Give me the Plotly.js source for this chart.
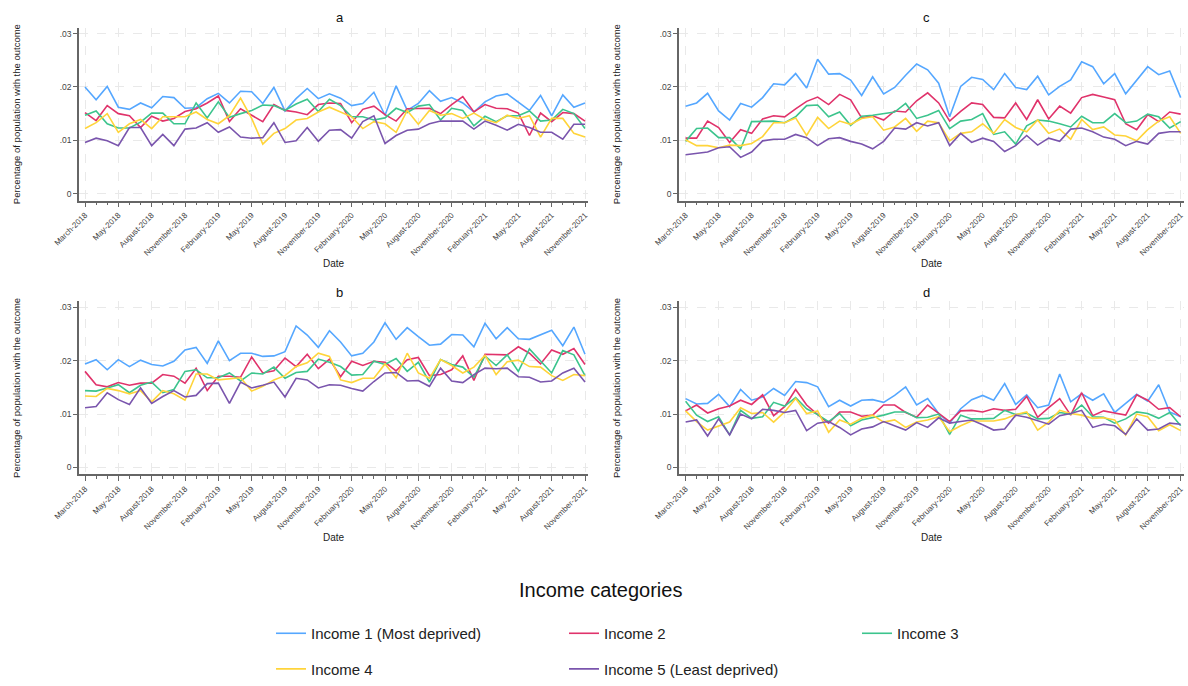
<!DOCTYPE html>
<html>
<head>
<meta charset="utf-8">
<script src="https://cdn.plot.ly/plotly-3.0.1.min.js"></script>
<style>html,body{margin:0;padding:0;background:#fff;}#chart{width:1188px;height:686px;}</style>
</head>
<body>
<div id="chart"></div>
<script>
// ---- Data ----
const tickLabels = ['March-2018','May-2018','August-2018','November-2018','February-2019','May-2019','August-2019','November-2019','February-2020','May-2020','August-2020','November-2020','February-2021','May-2021','August-2021','November-2021'];
const seriesNames = ['Income 1 (Most deprived)','Income 2','Income 3','Income 4','Income 5 (Least deprived)'];
const panelLabels = ['a','b','c','d'];

// Panel a
const a_inc1 = [.0200,.0176,.0201,.0162,.0158,.0170,.0161,.0182,.0180,.0160,.0161,.0178,.0188,.0170,.0192,.0191,.0169,.0199,.0155,.0178,.0197,.0178,.0187,.0179,.0165,.0169,.0190,.0147,.0202,.0156,.0169,.0193,.0173,.0180,.0170,.0153,.0172,.0183,.0187,.0172,.0156,.0184,.0146,.0185,.0162,.0170];
const a_inc2 = [.0152,.0137,.0165,.0150,.0146,.0124,.0145,.0136,.0141,.0154,.0159,.0170,.0183,.0135,.0159,.0147,.0135,.0167,.0156,.0153,.0148,.0167,.0170,.0169,.0133,.0158,.0164,.0148,.0136,.0159,.0160,.0160,.0150,.0167,.0182,.0153,.0167,.0160,.0159,.0151,.0109,.0151,.0135,.0152,.0150,.0136];
const a_inc3 = [.0147,.0155,.0131,.0123,.0123,.0134,.0151,.0151,.0131,.0131,.0170,.0142,.0172,.0143,.0150,.0156,.0166,.0165,.0156,.0168,.0177,.0154,.0177,.0165,.0144,.0144,.0138,.0142,.0160,.0152,.0164,.0167,.0138,.0160,.0156,.0127,.0145,.0135,.0146,.0146,.0155,.0136,.0138,.0158,.0150,.0122];
const a_inc4 = [.0122,.0133,.0150,.0115,.0131,.0139,.0122,.0144,.0144,.0144,.0153,.0139,.0131,.0146,.0179,.0141,.0093,.0113,.0122,.0138,.0141,.0153,.0162,.0153,.0144,.0122,.0135,.0131,.0115,.0156,.0130,.0156,.0147,.0150,.0141,.0151,.0139,.0133,.0147,.0141,.0146,.0106,.0141,.0141,.0113,.0106];
const a_inc5 = [.0096,.0104,.0099,.0090,.0124,.0124,.0090,.0111,.0090,.0121,.0123,.0133,.0115,.0125,.0106,.0104,.0105,.0133,.0096,.0099,.0124,.0098,.0119,.0120,.0104,.0135,.0146,.0094,.0109,.0119,.0121,.0131,.0136,.0136,.0136,.0121,.0136,.0128,.0119,.0130,.0124,.0115,.0115,.0102,.0130,.0130];

// Panel b
const b_inc1 = [.0194,.0202,.0183,.0202,.0189,.0201,.0193,.0190,.0199,.0220,.0225,.0195,.0237,.0200,.0214,.0214,.0208,.0209,.0217,.0265,.0248,.0225,.0256,.0235,.0209,.0214,.0235,.0271,.0240,.0262,.0245,.0229,.0231,.0249,.0248,.0226,.0270,.0241,.0262,.0241,.0240,.0249,.0257,.0228,.0263,.0212];
const b_inc2 = [.0180,.0155,.0151,.0159,.0154,.0158,.0158,.0174,.0171,.0158,.0186,.0144,.0171,.0171,.0169,.0207,.0177,.0181,.0205,.0189,.0212,.0185,.0203,.0170,.0199,.0191,.0199,.0197,.0181,.0202,.0206,.0172,.0174,.0183,.0209,.0163,.0212,.0212,.0211,.0226,.0214,.0194,.0220,.0212,.0223,.0193];
const b_inc3 = [.0144,.0143,.0149,.0155,.0140,.0154,.0160,.0140,.0146,.0180,.0183,.0168,.0168,.0177,.0162,.0177,.0175,.0188,.0167,.0178,.0180,.0203,.0197,.0189,.0173,.0174,.0199,.0193,.0204,.0180,.0197,.0160,.0202,.0193,.0188,.0169,.0209,.0191,.0211,.0180,.0222,.0200,.0177,.0219,.0211,.0172];
const b_inc4 = [.0134,.0133,.0148,.0144,.0138,.0144,.0123,.0144,.0138,.0126,.0175,.0175,.0164,.0166,.0168,.0143,.0152,.0164,.0172,.0189,.0196,.0214,.0208,.0164,.0159,.0167,.0167,.0194,.0168,.0214,.0177,.0167,.0202,.0191,.0177,.0188,.0210,.0174,.0198,.0201,.0189,.0188,.0172,.0163,.0174,.0172];
const b_inc5 = [.0112,.0114,.0140,.0127,.0118,.0149,.0120,.0133,.0144,.0132,.0135,.0157,.0158,.0120,.0160,.0149,.0154,.0160,.0132,.0167,.0164,.0149,.0155,.0154,.0148,.0143,.0161,.0177,.0178,.0162,.0163,.0152,.0186,.0162,.0159,.0174,.0186,.0185,.0186,.0170,.0169,.0160,.0162,.0177,.0186,.0160];

// Panel c
const c_inc1 = [.0164,.0170,.0188,.0155,.0138,.0169,.0162,.0180,.0206,.0204,.0225,.0198,.0252,.0224,.0225,.0213,.0184,.0219,.0187,.0199,.0222,.0243,.0232,.0207,.0144,.0201,.0218,.0214,.0195,.0225,.0199,.0195,.0220,.0185,.0201,.0213,.0247,.0238,.0206,.0225,.0187,.0212,.0238,.0223,.0230,.0180];
const c_inc2 = [.0104,.0104,.0136,.0124,.0096,.0120,.0113,.0140,.0146,.0144,.0159,.0173,.0181,.0167,.0186,.0176,.0142,.0146,.0138,.0155,.0153,.0174,.0189,.0170,.0136,.0154,.0170,.0167,.0143,.0142,.0170,.0139,.0176,.0140,.0164,.0151,.0180,.0186,.0181,.0176,.0131,.0120,.0148,.0135,.0153,.0149];
const c_inc3 = [.0098,.0122,.0123,.0105,.0105,.0084,.0135,.0135,.0136,.0133,.0144,.0165,.0166,.0144,.0153,.0128,.0145,.0147,.0150,.0153,.0169,.0141,.0147,.0156,.0122,.0136,.0139,.0150,.0111,.0116,.0093,.0127,.0138,.0136,.0131,.0125,.0145,.0133,.0133,.0150,.0133,.0136,.0149,.0144,.0123,.0135];
const c_inc4 = [.0101,.0090,.0090,.0086,.0091,.0090,.0094,.0107,.0133,.0133,.0142,.0109,.0143,.0122,.0136,.0130,.0141,.0144,.0119,.0125,.0141,.0117,.0136,.0133,.0099,.0113,.0116,.0131,.0113,.0139,.0124,.0116,.0138,.0113,.0121,.0102,.0139,.0120,.0125,.0110,.0108,.0099,.0120,.0136,.0144,.0113];
const c_inc5 = [.0073,.0076,.0078,.0086,.0088,.0068,.0078,.0099,.0102,.0102,.0111,.0105,.0090,.0103,.0105,.0098,.0093,.0084,.0098,.0123,.0121,.0133,.0127,.0133,.0090,.0113,.0096,.0104,.0098,.0079,.0090,.0109,.0091,.0104,.0098,.0121,.0123,.0116,.0106,.0102,.0090,.0098,.0093,.0113,.0116,.0116];

// Panel d
const d_inc1 = [.0129,.0119,.0120,.0137,.0114,.0146,.0126,.0132,.0148,.0135,.0161,.0159,.0151,.0114,.0126,.0115,.0126,.0127,.0122,.0135,.0151,.0117,.0129,.0101,.0083,.0110,.0127,.0135,.0126,.0157,.0118,.0136,.0112,.0117,.0175,.0123,.0138,.0126,.0138,.0103,.0120,.0137,.0124,.0155,.0104,.0095];
const d_inc2 = [.0106,.0117,.0102,.0110,.0115,.0126,.0118,.0136,.0097,.0114,.0146,.0117,.0099,.0083,.0104,.0104,.0096,.0098,.0117,.0117,.0103,.0094,.0117,.0101,.0086,.0106,.0107,.0104,.0110,.0107,.0109,.0133,.0094,.0112,.0129,.0098,.0140,.0097,.0106,.0102,.0098,.0136,.0126,.0109,.0112,.0095];
const d_inc3 = [.0124,.0098,.0086,.0095,.0061,.0107,.0092,.0095,.0122,.0115,.0131,.0110,.0099,.0086,.0101,.0078,.0089,.0093,.0098,.0104,.0104,.0093,.0094,.0100,.0062,.0098,.0091,.0091,.0092,.0107,.0099,.0102,.0091,.0092,.0103,.0100,.0117,.0095,.0094,.0083,.0091,.0104,.0101,.0092,.0103,.0078];
const d_inc4 = [.0106,.0086,.0070,.0078,.0085,.0112,.0101,.0103,.0085,.0104,.0129,.0101,.0106,.0066,.0089,.0081,.0092,.0098,.0085,.0089,.0075,.0085,.0089,.0095,.0067,.0078,.0087,.0087,.0087,.0091,.0099,.0104,.0070,.0085,.0107,.0101,.0098,.0092,.0093,.0089,.0061,.0100,.0095,.0069,.0080,.0069];
const d_inc5 = [.0085,.0089,.0059,.0091,.0061,.0100,.0091,.0109,.0107,.0103,.0107,.0069,.0083,.0086,.0075,.0061,.0072,.0076,.0086,.0078,.0070,.0084,.0075,.0093,.0083,.0086,.0089,.0080,.0070,.0072,.0098,.0094,.0088,.0081,.0097,.0101,.0107,.0075,.0081,.0078,.0062,.0091,.0070,.0072,.0083,.0081];

// ---- Build ----
const colors = ['#55a7ff','#e0336b','#3cc48d','#ffd43a','#7a55ad'];
const FONT = 'Liberation Sans, Arial, sans-serif';
const monthIndex = a_inc1.map((_, i) => i);
const tickVals = tickLabels.map((_, k) => k * 3);

const panels = [
  {key:'a', series:[a_inc1,a_inc2,a_inc3,a_inc4,a_inc5], xa:'x',  ya:'y'},
  {key:'c', series:[c_inc1,c_inc2,c_inc3,c_inc4,c_inc5], xa:'x2', ya:'y2'},
  {key:'b', series:[b_inc1,b_inc2,b_inc3,b_inc4,b_inc5], xa:'x3', ya:'y3'},
  {key:'d', series:[d_inc1,d_inc2,d_inc3,d_inc4,d_inc5], xa:'x4', ya:'y4'}
];

const traces = [];
panels.forEach((p, pi) => {
  p.series.forEach((vals, si) => {
    traces.push({
      type:'scatter', mode:'lines',
      x: monthIndex, y: vals,
      xaxis: p.xa, yaxis: p.ya,
      name: seriesNames[si],
      line:{color: colors[si], width:1.6},
      showlegend: pi === 0,
      legend: si < 3 ? 'legend' : 'legend2',
      hoverinfo:'skip'
    });
  });
});

function xAxis(domain, range, anchor) {
  return {
    domain: domain, range: range, anchor: anchor,
    tickmode:'array', tickvals: tickVals, ticktext: tickLabels,
    tickangle:-45, tickfont:{family:FONT, size:8, color:'#444'},
    ticklabeloverflow:'allow',
    ticks:'outside', ticklen:5, tickwidth:1, tickcolor:'#666',
    minor:{dtick:1, tick0:0, ticks:'outside', ticklen:3, tickcolor:'#666', showgrid:false},
    showline:true, linecolor:'#666', linewidth:1.5,
    showgrid:true, gridcolor:'#e9e9e9', griddash:'dash', gridwidth:1,
    zeroline:false, fixedrange:true,
    title:{text:'Date', font:{family:FONT, size:10, color:'#222'}, standoff:3}
  };
}
function yAxis(domain, anchor) {
  return {
    domain: domain, range:[-0.0013, 0.0311], anchor: anchor,
    tickmode:'array', tickvals:[0, 0.01, 0.02, 0.03], ticktext:['0', '.01', '.02', '.03'],
    tickfont:{family:FONT, size:8.5, color:'#444'},
    ticks:'outside', ticklen:4, tickwidth:1, tickcolor:'#666',
    showline:true, linecolor:'#666', linewidth:1.5,
    showgrid:true, gridcolor:'#e9e9e9', griddash:'dash', gridwidth:1,
    zeroline:false, fixedrange:true,
    title:{text:'Percentage of population with the outcome', font:{family:FONT, size:9.5, color:'#222'}, standoff:37}
  };
}

const W = 1188, H = 686;
const topDom = [(H-203)/H, (H-28)/H];
const botDom = [(H-480)/H, (H-305)/H];
const leftDom = [79/W, 588/W];
const rightDom = [679/W, 1184/W];

const legendBase = {orientation:'h', x:271/W, xanchor:'left', yanchor:'middle',
  font:{family:FONT, size:15, color:'#222'}, entrywidth:248, bgcolor:'rgba(0,0,0,0)',
  itemclick:false, itemdoubleclick:false};

const layout = {
  width:W, height:H,
  margin:{l:0, r:0, t:0, b:0},
  paper_bgcolor:'#fff', plot_bgcolor:'#fff',
  font:{family:FONT, color:'#222'},
  xaxis:  xAxis(leftDom,  [-0.54, 45.27], 'y'),
  yaxis:  yAxis(topDom, 'x'),
  xaxis2: xAxis(rightDom, [-0.6, 45.3], 'y2'),
  yaxis2: yAxis(topDom, 'x2'),
  xaxis3: xAxis(leftDom,  [-0.54, 45.27], 'y3'),
  yaxis3: yAxis(botDom, 'x3'),
  xaxis4: xAxis(rightDom, [-0.6, 45.3], 'y4'),
  yaxis4: yAxis(botDom, 'x4'),
  legend: Object.assign({}, legendBase, {y:(H-641)/H}),
  legend2: Object.assign({}, legendBase, {y:(H-677)/H}),
  annotations:[
    {text:'a', xref:'paper', yref:'paper', x:(79+588)/2/W, y:(H-18)/H, yanchor:'middle', showarrow:false, font:{family:FONT, size:13, color:'#111'}},
    {text:'c', xref:'paper', yref:'paper', x:(679+1184)/2/W, y:(H-18)/H, yanchor:'middle', showarrow:false, font:{family:FONT, size:13, color:'#111'}},
    {text:'b', xref:'paper', yref:'paper', x:(79+588)/2/W, y:(H-296)/H, yanchor:'middle', showarrow:false, font:{family:FONT, size:13, color:'#111'}},
    {text:'d', xref:'paper', yref:'paper', x:(679+1184)/2/W, y:(H-296)/H, yanchor:'middle', showarrow:false, font:{family:FONT, size:13, color:'#111'}},
    {text:'Income categories', xref:'paper', yref:'paper', x:600/W, y:(H-597)/H, yanchor:'middle', showarrow:false, font:{family:FONT, size:20, color:'#111'}}
  ]
};

Plotly.newPlot('chart', traces, layout, {displayModeBar:false, staticPlot:false, responsive:false});
</script>
</body>
</html>
